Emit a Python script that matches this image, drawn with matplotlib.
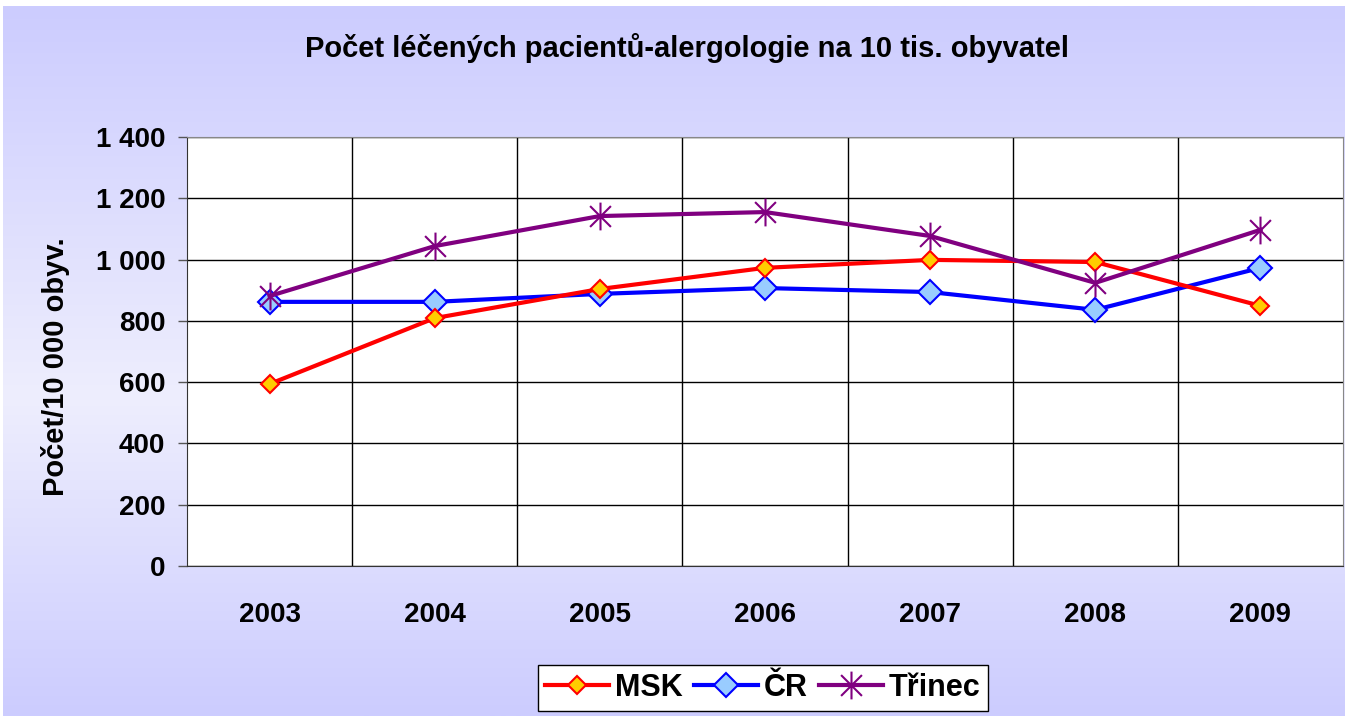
import numpy as np
import matplotlib
matplotlib.use("Agg")
import matplotlib.pyplot as plt
from matplotlib.path import Path
from matplotlib.colors import LinearSegmentedColormap

years = ["2003", "2004", "2005", "2006", "2007", "2008", "2009"]
msk = [594, 809, 904, 973, 999, 992, 849]
cr = [862, 862, 888, 907, 894, 836, 973]
trinec = [881, 1044, 1142, 1155, 1077, 924, 1097]
yticks = [0, 200, 400, 600, 800, 1000, 1200, 1400]
ytick_labels = ["0", "200", "400", "600", "800", "1 000", "1 200", "1 400"]

plt.rcParams['font.family'] = ['Liberation Sans', 'DejaVu Sans']

W, H = 1348, 718
fig = plt.figure(figsize=(W / 100, H / 100), dpi=100)
fig.patch.set_facecolor("white")

# background gradient
bg = fig.add_axes([3 / W, 2 / H, 1342 / W, 710 / H])
cmap = LinearSegmentedColormap.from_list(
    "g", [(0.0, "#CCCCFF"), (0.55, "#EEEEFD"), (1.0, "#CCCCFF")])
grad = np.linspace(0, 1, 256).reshape(-1, 1)
bg.imshow(grad, aspect="auto", cmap=cmap, extent=[0, 1, 0, 1], origin="upper")
bg.set_axis_off()

L, R, T, B = 187, 1343, 137, 566
ax = fig.add_axes([L / W, 1 - B / H, (R - L) / W, (B - T) / H])
ax.set_facecolor("white")
x = np.arange(len(years))
ax.set_xlim(-0.5, len(years) - 0.5)
ax.set_ylim(0, 1400)

ax.set_yticks(yticks)
ax.set_yticklabels(ytick_labels, fontsize=20, fontweight="bold")
ax.set_xticks(x)
ax.set_xticklabels(years, fontsize=20, fontweight="bold")
ax.tick_params(axis="x", length=0, pad=26)
ax.tick_params(axis="y", length=6.5, width=1, color="#555555", pad=9, direction="out")
for v in x[:-1] + 0.5:
    ax.axvline(v, color="black", lw=1, zorder=1)
ax.yaxis.grid(True, color="black", lw=1)
ax.set_axisbelow(True)
for s in ["top", "right"]:
    ax.spines[s].set_color("#888888")
ax.spines["left"].set_color("#333333")
ax.spines["bottom"].set_color("#333333")

# asterisk marker: vertical + X
star = Path([(0, -1), (0, 1), (-0.75, -0.75), (0.75, 0.75), (-0.75, 0.75), (0.75, -0.75)],
            [Path.MOVETO, Path.LINETO, Path.MOVETO, Path.LINETO, Path.MOVETO, Path.LINETO])

ax.plot(x, msk, color="#FF0000", lw=3, marker="D", ms=9, mfc="#FFCC00", mec="#FF0000",
        mew=1.5, label="MSK", zorder=4)
ax.plot(x, cr, color="#0000FF", lw=3, marker="D", ms=12, mfc="#99CCFF", mec="#0000FF",
        mew=1.5, label="ČR", zorder=3)
ax.plot(x, trinec, color="#800080", lw=3, marker=star, ms=20, mec="#800080",
        mew=1.5, label="Třinec", zorder=5)

fig.text(56 / W, 1 - 367 / H, "Počet/10 000 obyv.", rotation=90, ha="center", va="center",
         fontsize=21, fontweight="bold")

fig.text(687 / W, 1 - 48 / H, "Počet léčených pacientů-alergologie na 10 tis. obyvatel",
         ha="center", va="center", fontsize=21, fontweight="bold")

leg = fig.legend(loc="center", bbox_to_anchor=(763 / W, 1 - 688 / H), ncol=3,
                 frameon=True, fancybox=False, edgecolor="black", facecolor="white",
                 prop={"size": 22, "weight": "bold"}, handlelength=2.1,
                 columnspacing=0.35, handletextpad=0.2, borderpad=0.25,
                 borderaxespad=0)
leg.get_frame().set_linewidth(1)
leg.get_frame().set_alpha(1)

fig.savefig("out.png", dpi=100)
